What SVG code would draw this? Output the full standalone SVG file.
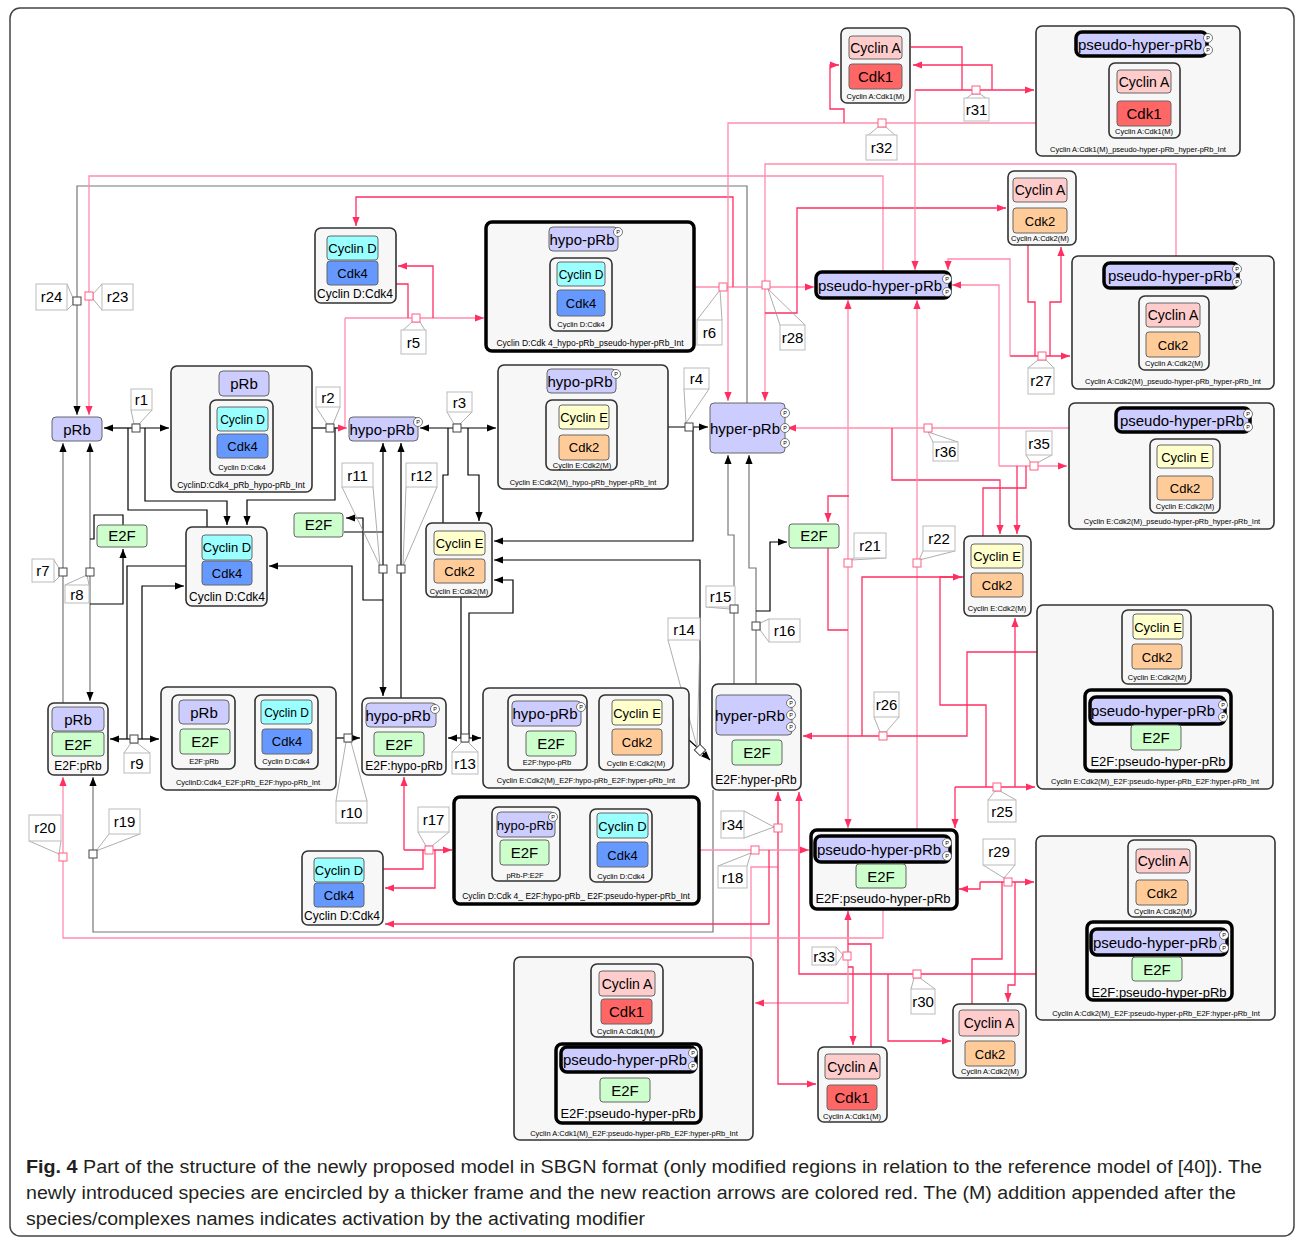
<svg xmlns="http://www.w3.org/2000/svg" width="1295" height="1238" viewBox="0 0 1295 1238">
<defs>
<style>
.c{fill:#f7f7f7;stroke:#333;stroke-width:1.6}
.ct{fill:#f7f7f7;stroke:#000;stroke-width:3.5}
.s{stroke:#666;stroke-width:1}
.prb{fill:#ccccff}
.p3{fill:#ccccff;stroke:#000;stroke-width:3.5}
.cd{fill:#99ffff}.k4{fill:#6699ff}.ce{fill:#ffffcc}.k2{fill:#ffcc99}.ca{fill:#ffcccc}.k1{fill:#ff6666}.e2{fill:#ccffcc}
.tx{font-family:"Liberation Sans",Arial,Helvetica,sans-serif;text-anchor:middle;fill:#000}
.f15{font-size:15px}.f14{font-size:14px}.f13{font-size:13px}.f12{font-size:12px}.f8{font-size:7.5px}.f9{font-size:8.5px}.f5{font-size:5.5px}
.pc{fill:#fff;stroke:#555;stroke-width:0.8}
.lb{fill:none;stroke:#000;stroke-width:1.2}
.lg{fill:none;stroke:#777;stroke-width:1.2}
.lp{fill:none;stroke:#ff2f62;stroke-width:1.3}
.ll{fill:none;stroke:#ff8cae;stroke-width:1.3}
.sq{fill:#fff;stroke:#444;stroke-width:1}
.sqp{fill:#fff;stroke:#ff5f86;stroke-width:1}
.lbx{fill:#fff;stroke:#bbb;stroke-width:1}
.co{fill:none;stroke:#999;stroke-width:0.8}
.cap{font-family:"Liberation Sans",Arial,sans-serif;font-size:18px;fill:#231f20}
</style>
<marker id="ab" viewBox="0 0 10 10" refX="10" refY="5" markerWidth="10" markerHeight="9" markerUnits="userSpaceOnUse" orient="auto"><path d="M0,1L10,5L0,9z" fill="#000"/></marker>
<marker id="ap" viewBox="0 0 10 10" refX="10" refY="5" markerWidth="10" markerHeight="9" markerUnits="userSpaceOnUse" orient="auto"><path d="M0,1L10,5L0,9z" fill="#ff2f62"/></marker>
</defs>
<rect x="10" y="8" width="1284" height="1228" rx="10" fill="#fff" stroke="#444" stroke-width="1.5"/>

<g id="connectors">
<path class="lb" d="M136,428 H104" marker-end="url(#ab)"/>
<path class="lb" d="M136,428 H169" marker-end="url(#ab)"/>
<path class="lb" d="M207,527 V510 H128 V428"/>
<path class="lb" d="M145,428 V501 H227 V525" marker-end="url(#ab)"/>
<path class="lb" d="M312,428 H341"/>
<path class="lb" d="M335,428 V500 H247 V525" marker-end="url(#ab)"/>
<path class="lb" d="M457,428 H420" marker-end="url(#ab)"/>
<path class="lb" d="M457,428 H496" marker-end="url(#ab)"/>
<path class="lb" d="M443,523 V475 H448 V428"/>
<path class="lb" d="M468,428 V475 H479 V521" marker-end="url(#ab)"/>
<path class="lb" d="M668,427 H708" marker-end="url(#ab)"/>
<path class="lb" d="M693,427 V541 H494" marker-end="url(#ab)"/>
<path class="lg" d="M63,703 V443" marker-end="url(#ab)"/>
<path class="lg" d="M90,572 V443" marker-end="url(#ab)"/>
<path class="lg" d="M90,572 V701" marker-end="url(#ab)"/>
<path class="lb" d="M123,525 V515 H94 V539 H90"/>
<path class="lb" d="M90,604 H123 V549" marker-end="url(#ab)"/>
<path class="lb" d="M134,739 H110" marker-end="url(#ab)"/>
<path class="lb" d="M134,739 H159" marker-end="url(#ab)"/>
<path class="lb" d="M127,739 V566 H186"/>
<path class="lb" d="M142,739 V586 H184" marker-end="url(#ab)"/>
<path class="lb" d="M336,738 H360" marker-end="url(#ab)"/>
<path class="lb" d="M352,738 V566 H269" marker-end="url(#ab)"/>
<path class="lb" d="M383,569 V443" marker-end="url(#ab)"/>
<path class="lb" d="M383,569 V696" marker-end="url(#ab)"/>
<path class="lb" d="M344,532 H383"/>
<path class="lb" d="M401,698 V443" marker-end="url(#ab)"/>
<path class="lb" d="M383,600 H363 V518 H346" marker-end="url(#ab)"/>
<path class="lb" d="M465,738 H448" marker-end="url(#ab)"/>
<path class="lb" d="M465,738 H481" marker-end="url(#ab)"/>
<path class="lb" d="M461,738 V597"/>
<path class="lb" d="M469,738 V613 H513 V580 H494" marker-end="url(#ab)"/>
<path class="lb" d="M689,740 L700,750 L710,760" marker-end="url(#ab)"/>
<path class="lb" d="M700,750 V560 H494" marker-end="url(#ab)"/>
<path class="lg" d="M734,684 V535 H728 V455" marker-end="url(#ab)"/>
<path class="lg" d="M756,684 V568 H749 V455" marker-end="url(#ab)"/>
<path class="lb" d="M756,611 H770 V542 H787" marker-end="url(#ab)"/>
<path class="lg" d="M713,790 V932 H93 V777" marker-end="url(#ab)"/>
<path class="lg" d="M747,403 V186 H77 V415" marker-end="url(#ab)"/>
<path class="ll" d="M883,272 V176 H89 V415" marker-end="url(#ap)"/>
<path class="ll" d="M345,318 H484" marker-end="url(#ap)"/>
<path class="ll" d="M345,318 V428 H347" marker-end="url(#ap)"/>
<path class="lp" d="M396,284 H408 V318"/>
<path class="lp" d="M433,318 V266 H398" marker-end="url(#ap)"/>
<path class="ll" d="M694,287 H814" marker-end="url(#ap)"/>
<path class="lp" d="M733,287 V197 H356 V226" marker-end="url(#ap)"/>
<path class="ll" d="M1176,256 V164 H765 V401" marker-end="url(#ap)"/>
<path class="lp" d="M765,313 H797 V208 H1006" marker-end="url(#ap)"/>
<path class="lp" d="M911,47 H962 V90"/>
<path class="lp" d="M915,90 H1034" marker-end="url(#ap)"/>
<path class="lp" d="M992,90 V65 H913" marker-end="url(#ap)"/>
<path class="ll" d="M915,90 V270" marker-end="url(#ap)"/>
<path class="ll" d="M1036,123 H728 V401" marker-end="url(#ap)"/>
<path class="lp" d="M844,123 V109 H830 V65 H839" marker-end="url(#ap)"/>
<path class="lp" d="M1028,245 V302 H1035 V356"/>
<path class="lp" d="M1050,356 V302 H1061 V247" marker-end="url(#ap)"/>
<path class="lp" d="M1010,356 H1070" marker-end="url(#ap)"/>
<path class="ll" d="M1010,356 V259 H948 V270" marker-end="url(#ap)"/>
<path class="ll" d="M999,466 V285 H952" marker-end="url(#ap)"/>
<path class="ll" d="M999,466 H1067" marker-end="url(#ap)"/>
<path class="lp" d="M1026,466 V488 H983 V536"/>
<path class="lp" d="M1017,466 V534" marker-end="url(#ap)"/>
<path class="ll" d="M1069,428 H787" marker-end="url(#ap)"/>
<path class="lp" d="M892,428 V480 H1000 V534" marker-end="url(#ap)"/>
<path class="ll" d="M848,563 V300" marker-end="url(#ap)"/>
<path class="ll" d="M848,563 V828" marker-end="url(#ap)"/>
<path class="lp" d="M849,496 H828 V522" marker-end="url(#ap)"/>
<path class="lp" d="M828,548 V630 H848"/>
<path class="ll" d="M917,830 V300" marker-end="url(#ap)"/>
<path class="lp" d="M1037,652 H967 V736 H803" marker-end="url(#ap)"/>
<path class="lp" d="M862,736 V577 H962" marker-end="url(#ap)"/>
<path class="lp" d="M964,577 H940 V705 H986 V787"/>
<path class="lp" d="M955,787 H1035" marker-end="url(#ap)"/>
<path class="lp" d="M955,787 V828" marker-end="url(#ap)"/>
<path class="lp" d="M1015,787 V618" marker-end="url(#ap)"/>
<path class="lp" d="M980,882 H1034" marker-end="url(#ap)"/>
<path class="lp" d="M980,882 V889 H959" marker-end="url(#ap)"/>
<path class="lp" d="M1002,882 V959 H972 V1004"/>
<path class="lp" d="M1015,882 V985 H1008 V1002" marker-end="url(#ap)"/>
<path class="lp" d="M1036,974 H799 V792" marker-end="url(#ap)"/>
<path class="lp" d="M888,974 V1041 H951" marker-end="url(#ap)"/>
<path class="lp" d="M848,955 V911" marker-end="url(#ap)"/>
<path class="ll" d="M848,955 V1003 H755" marker-end="url(#ap)"/>
<path class="lp" d="M848,967 H853 V1045" marker-end="url(#ap)"/>
<path class="lp" d="M871,1047 V944 H848"/>
<path class="ll" d="M751,957 V867 H778"/>
<path class="lp" d="M778,828 V792" marker-end="url(#ap)"/>
<path class="lp" d="M778,828 V1084 H816" marker-end="url(#ap)"/>
<path class="ll" d="M699,850 H809" marker-end="url(#ap)"/>
<path class="lp" d="M769,850 V924 H385" marker-end="url(#ap)"/>
<path class="lp" d="M404,850 V777" marker-end="url(#ap)"/>
<path class="lp" d="M404,850 H452" marker-end="url(#ap)"/>
<path class="lp" d="M383,869 H423 V850"/>
<path class="lp" d="M435,850 V888 H385" marker-end="url(#ap)"/>
<path class="ll" d="M883,909 V938 H63 V777" marker-end="url(#ap)"/>
</g>

<g id="reactions">
<polyline class="co" points="131,410 134,424 139,424 152,410"/><rect class="lbx" x="131" y="389" width="21" height="21"/><text class="tx f15" x="141.5" y="405">r1</text>
<polyline class="co" points="316,407 327,424 333,424 340,407"/><rect class="lbx" x="316" y="387" width="24" height="20"/><text class="tx f15" x="328" y="403">r2</text>
<polyline class="co" points="447,412 454,424 460,424 472,412"/><rect class="lbx" x="447" y="392" width="25" height="20"/><text class="tx f15" x="459.5" y="408">r3</text>
<polyline class="co" points="684,389 686,423 709,389"/><rect class="lbx" x="684" y="368" width="25" height="21"/><text class="tx f15" x="696.5" y="384">r4</text>
<polyline class="co" points="401,332 412,322 420,322 426,332"/><rect class="lbx" x="401" y="330" width="25" height="24"/><text class="tx f15" x="413.5" y="348">r5</text>
<polyline class="co" points="697,320 720,290 722,320"/><rect class="lbx" x="697" y="320" width="25" height="25"/><text class="tx f15" x="709.5" y="338">r6</text>
<polyline class="co" points="54,560 59,568 59,577 54,582"/><rect class="lbx" x="32" y="559" width="22" height="23"/><text class="tx f15" x="43" y="576">r7</text>
<polyline class="co" points="65,585 87,575 89,585"/><rect class="lbx" x="65" y="585" width="24" height="18"/><text class="tx f15" x="77" y="600">r8</text>
<polyline class="co" points="124,753 131,743 137,743 150,753"/><rect class="lbx" x="124" y="753" width="26" height="20"/><text class="tx f15" x="137" y="769">r9</text>
<polyline class="co" points="336,801 346,742 351,742 367,801"/><rect class="lbx" x="336" y="801" width="31" height="22"/><text class="tx f15" x="351.5" y="818">r10</text>
<polyline class="co" points="342,487 380,566 373,487"/><rect class="lbx" x="342" y="463" width="31" height="24"/><text class="tx f15" x="357.5" y="481">r11</text>
<polyline class="co" points="437,487 403,566 406,487"/><rect class="lbx" x="406" y="463" width="31" height="24"/><text class="tx f15" x="421.5" y="481">r12</text>
<polyline class="co" points="452,752 462,742 468,742 478,752"/><rect class="lbx" x="452" y="752" width="26" height="22"/><text class="tx f15" x="465" y="769">r13</text>
<polyline class="co" points="668,640 697,747 700,640"/><rect class="lbx" x="668" y="618" width="32" height="22"/><text class="tx f15" x="684" y="635">r14</text>
<polyline class="co" points="706,607 730,609 734,607"/><rect class="lbx" x="706" y="586" width="29" height="21"/><text class="tx f15" x="720.5" y="602">r15</text>
<polyline class="co" points="769,619 760,623 760,630 769,642"/><rect class="lbx" x="769" y="619" width="31" height="23"/><text class="tx f15" x="784.5" y="636">r16</text>
<polyline class="co" points="418,832 426,846 432,846 449,832"/><rect class="lbx" x="418" y="807" width="31" height="25"/><text class="tx f15" x="433.5" y="825">r17</text>
<polyline class="co" points="718,866 751,853 747,866"/><rect class="lbx" x="718" y="866" width="29" height="22"/><text class="tx f15" x="732.5" y="883">r18</text>
<polyline class="co" points="109,834 96,851 140,834"/><rect class="lbx" x="109" y="809" width="31" height="25"/><text class="tx f15" x="124.5" y="827">r19</text>
<polyline class="co" points="29,841 59,854 61,841"/><rect class="lbx" x="29" y="815" width="32" height="26"/><text class="tx f15" x="45" y="833">r20</text>
<polyline class="co" points="854,558 851,560 886,558"/><rect class="lbx" x="854" y="533" width="32" height="25"/><text class="tx f15" x="870" y="551">r21</text>
<polyline class="co" points="923,551 919,560 955,551"/><rect class="lbx" x="923" y="526" width="32" height="25"/><text class="tx f15" x="939" y="544">r22</text>
<polyline class="co" points="102,284 93,294 93,299 102,310"/><rect class="lbx" x="102" y="284" width="31" height="26"/><text class="tx f15" x="117.5" y="302">r23</text>
<polyline class="co" points="67,284 73,298 73,304 67,310"/><rect class="lbx" x="36" y="284" width="31" height="26"/><text class="tx f15" x="51.5" y="302">r24</text>
<polyline class="co" points="988,800 995,791 1000,791 1016,800"/><rect class="lbx" x="988" y="800" width="28" height="22"/><text class="tx f15" x="1002" y="817">r25</text>
<polyline class="co" points="874,717 880,732 886,732 899,717"/><rect class="lbx" x="874" y="692" width="25" height="25"/><text class="tx f15" x="886.5" y="710">r26</text>
<polyline class="co" points="1028,368 1038,360 1046,360 1054,368"/><rect class="lbx" x="1028" y="368" width="26" height="26"/><text class="tx f15" x="1041" y="386">r27</text>
<polyline class="co" points="780,325 768,289 805,325"/><rect class="lbx" x="780" y="325" width="25" height="25"/><text class="tx f15" x="792.5" y="343">r28</text>
<polyline class="co" points="983,865 1004,878 1015,865"/><rect class="lbx" x="983" y="839" width="32" height="26"/><text class="tx f15" x="999" y="857">r29</text>
<polyline class="co" points="911,989 914,978 920,978 935,989"/><rect class="lbx" x="911" y="989" width="24" height="25"/><text class="tx f15" x="923" y="1007">r30</text>
<polyline class="co" points="964,100 972,94 980,94 989,100"/><rect class="lbx" x="964" y="98" width="25" height="23"/><text class="tx f15" x="976.5" y="115">r31</text>
<polyline class="co" points="866,137 878,127 886,127 897,137"/><rect class="lbx" x="866" y="135" width="31" height="25"/><text class="tx f15" x="881.5" y="153">r32</text>
<polyline class="co" points="836,947 843,955 836,965"/><rect class="lbx" x="812" y="947" width="24" height="18"/><text class="tx f15" x="824" y="962">r33</text>
<polyline class="co" points="744,811 774,827 744,838"/><rect class="lbx" x="721" y="811" width="23" height="27"/><text class="tx f15" x="732.5" y="830">r34</text>
<polyline class="co" points="1026,455 1031,463 1037,463 1052,455"/><rect class="lbx" x="1026" y="431" width="26" height="24"/><text class="tx f15" x="1039" y="449">r35</text>
<polyline class="co" points="933,442 928,432 958,442"/><rect class="lbx" x="933" y="442" width="25" height="19"/><text class="tx f15" x="945.5" y="457">r36</text>
<rect class="sq" x="132" y="424" width="8" height="8"/>
<rect class="sq" x="326" y="424" width="8" height="8"/>
<rect class="sq" x="453" y="424" width="8" height="8"/>
<rect class="sq" x="685" y="423" width="8" height="8"/>
<rect class="sq" x="59" y="568" width="8" height="8"/>
<rect class="sq" x="86" y="568" width="8" height="8"/>
<rect class="sq" x="130" y="735" width="8" height="8"/>
<rect class="sq" x="344" y="734" width="8" height="8"/>
<rect class="sq" x="379" y="565" width="8" height="8"/>
<rect class="sq" x="397" y="565" width="8" height="8"/>
<rect class="sq" x="461" y="734" width="8" height="8"/>
<rect class="sq" x="730" y="605" width="8" height="8"/>
<rect class="sq" x="752" y="622" width="8" height="8"/>
<rect class="sq" x="89" y="850" width="8" height="8"/>
<rect class="sq" x="73" y="297" width="8" height="8"/>
<rect class="sq" x="696" y="746" width="8" height="8" transform="rotate(45 700 750)"/>
<rect class="sqp" x="412" y="314" width="8" height="8"/>
<rect class="sqp" x="719" y="283" width="8" height="8"/>
<rect class="sqp" x="425" y="846" width="8" height="8"/>
<rect class="sqp" x="751" y="846" width="8" height="8"/>
<rect class="sqp" x="59" y="853" width="8" height="8"/>
<rect class="sqp" x="844" y="559" width="8" height="8"/>
<rect class="sqp" x="913" y="559" width="8" height="8"/>
<rect class="sqp" x="85" y="292" width="8" height="8"/>
<rect class="sqp" x="993" y="783" width="8" height="8"/>
<rect class="sqp" x="879" y="732" width="8" height="8"/>
<rect class="sqp" x="1038" y="352" width="8" height="8"/>
<rect class="sqp" x="762" y="281" width="8" height="8"/>
<rect class="sqp" x="1004" y="878" width="8" height="8"/>
<rect class="sqp" x="913" y="970" width="8" height="8"/>
<rect class="sqp" x="972" y="86" width="8" height="8"/>
<rect class="sqp" x="878" y="119" width="8" height="8"/>
<rect class="sqp" x="843" y="952" width="8" height="8"/>
<rect class="sqp" x="774" y="824" width="8" height="8"/>
<rect class="sqp" x="1030" y="462" width="8" height="8"/>
<rect class="sqp" x="924" y="424" width="8" height="8"/>
</g>

<g id="n_CycA_Cdk1_top">
<rect class="c" x="841" y="28" width="69" height="75" rx="6"/>
<rect class="s ca" x="849" y="36" width="53" height="23" rx="3"/><text class="tx f14" x="875.5" y="52.5">Cyclin A</text>
<rect class="s k1" x="849" y="64" width="53" height="25" rx="3"/><text class="tx f15" x="875.5" y="82">Cdk1</text>
<text class="tx f8" x="875.5" y="99">Cyclin A:Cdk1(M)</text>
</g>
<g id="n_CycA_Cdk1_pseudo_Int">
<rect class="c" x="1036" y="26" width="204" height="130" rx="6"/>
<rect class="p3" x="1076" y="32" width="131" height="24" rx="6"/><text class="tx f15" x="1140" y="50">pseudo-hyper-pRb</text>
<circle class="pc" cx="1208" cy="38" r="4.5"/><text class="tx f5" x="1208" y="40">P</text>
<circle class="pc" cx="1208" cy="50" r="4.5"/><text class="tx f5" x="1208" y="52">P</text>
<rect class="c" x="1109" y="63" width="71" height="75" rx="6"/>
<rect class="s ca" x="1117" y="70" width="54" height="23" rx="3"/><text class="tx f14" x="1144" y="87">Cyclin A</text>
<rect class="s k1" x="1117" y="101" width="54" height="25" rx="3"/><text class="tx f15" x="1144" y="119">Cdk1</text>
<text class="tx f8" x="1144" y="134">Cyclin A:Cdk1(M)</text>
<text class="tx f8" x="1138" y="152">Cyclin A:Cdk1(M)_pseudo-hyper-pRb_hyper-pRb_Int</text>
</g>
<g id="n_CycA_Cdk2_top">
<rect class="c" x="1008" y="171" width="68" height="74" rx="6"/>
<rect class="s ca" x="1013" y="178" width="54" height="24" rx="3"/><text class="tx f14" x="1040" y="195">Cyclin A</text>
<rect class="s k2" x="1013" y="208" width="54" height="25" rx="3"/><text class="tx f13" x="1040" y="226">Cdk2</text>
<text class="tx f8" x="1040" y="241">Cyclin A:Cdk2(M)</text>
</g>
<g id="n_CycA_Cdk2_pseudo_Int">
<rect class="c" x="1072" y="256" width="202" height="133" rx="6"/>
<rect class="p3" x="1104" y="263" width="134" height="25" rx="6"/><text class="tx f15" x="1170" y="281">pseudo-hyper-pRb</text>
<circle class="pc" cx="1237" cy="269" r="4.5"/><text class="tx f5" x="1237" y="271">P</text>
<circle class="pc" cx="1237" cy="282" r="4.5"/><text class="tx f5" x="1237" y="284">P</text>
<rect class="c" x="1139" y="296" width="70" height="74" rx="6"/>
<rect class="s ca" x="1146" y="303" width="54" height="24" rx="3"/><text class="tx f14" x="1173" y="320">Cyclin A</text>
<rect class="s k2" x="1146" y="332" width="54" height="25" rx="3"/><text class="tx f13" x="1173" y="350">Cdk2</text>
<text class="tx f8" x="1174" y="366">Cyclin A:Cdk2(M)</text>
<text class="tx f8" x="1173" y="384">Cyclin A:Cdk2(M)_pseudo-hyper-pRb_hyper-pRb_Int</text>
</g>
<g id="n_pseudo_hyper_pRb">
<rect class="p3" x="816" y="272" width="134" height="26" rx="6"/><text class="tx f15" x="880" y="291">pseudo-hyper-pRb</text>
<circle class="pc" cx="947" cy="279" r="4.5"/><text class="tx f5" x="947" y="281">P</text>
<circle class="pc" cx="947" cy="292" r="4.5"/><text class="tx f5" x="947" y="294">P</text>
</g>
<g id="n_CycD_Cdk4_upper">
<rect class="c" x="315" y="228" width="81" height="75" rx="6"/>
<rect class="s cd" x="327" y="236" width="51" height="24" rx="3"/><text class="tx f13" x="352.5" y="253">Cyclin D</text>
<rect class="s k4" x="327" y="261" width="51" height="24" rx="3"/><text class="tx f13" x="352.5" y="278">Cdk4</text>
<text class="tx f12" x="355" y="298">Cyclin D:Cdk4</text>
</g>
<g id="n_CycD_Cdk4_hypo_pseudo_Int">
<rect class="ct" x="486" y="222" width="208" height="129" rx="6"/>
<rect class="s prb" x="549" y="227" width="69" height="24" rx="4"/><text class="tx f15" x="582" y="245">hypo-pRb</text>
<circle class="pc" cx="618" cy="232" r="4.5"/><text class="tx f5" x="618" y="234">P</text>
<rect class="c" x="550" y="258" width="62" height="73" rx="6"/>
<rect class="s cd" x="557" y="262" width="48" height="24" rx="3"/><text class="tx f12" x="581" y="279">Cyclin D</text>
<rect class="s k4" x="557" y="290" width="48" height="26" rx="3"/><text class="tx f13" x="581" y="308">Cdk4</text>
<text class="tx f8" x="581" y="327">Cyclin D:Cdk4</text>
<text class="tx f9" x="590" y="346">Cyclin D:Cdk 4_hypo-pRb_pseudo-hyper-pRb_Int</text>
</g>
<g id="n_pRb">
<rect class="s prb" x="52" y="417" width="50" height="24" rx="4"/><text class="tx f15" x="77" y="435">pRb</text>
</g>
<g id="n_CycD_Cdk4_pRb_hypo_Int">
<rect class="c" x="171" y="366" width="141" height="126" rx="6"/>
<rect class="s prb" x="219" y="371" width="50" height="25" rx="4"/><text class="tx f15" x="244" y="389">pRb</text>
<rect class="c" x="210" y="400" width="63" height="75" rx="6"/>
<rect class="s cd" x="217" y="407" width="51" height="24" rx="3"/><text class="tx f12" x="242.5" y="424">Cyclin D</text>
<rect class="s k4" x="217" y="434" width="51" height="24" rx="3"/><text class="tx f13" x="242.5" y="451">Cdk4</text>
<text class="tx f8" x="242" y="470">Cyclin D:Cdk4</text>
<text class="tx f9" x="241" y="488">CyclinD:Cdk4_pRb_hypo-pRb_Int</text>
</g>
<g id="n_hypo_pRb">
<rect class="s prb" x="349" y="417" width="69" height="24" rx="4"/><text class="tx f15" x="382" y="435">hypo-pRb</text>
<circle class="pc" cx="418" cy="422" r="4.5"/><text class="tx f5" x="418" y="424">P</text>
</g>
<g id="n_CycE_Cdk2_hypo_hyper_Int">
<rect class="c" x="498" y="365" width="170" height="124" rx="6"/>
<rect class="s prb" x="547" y="369" width="69" height="24" rx="4"/><text class="tx f15" x="580" y="387">hypo-pRb</text>
<circle class="pc" cx="616" cy="374" r="4.5"/><text class="tx f5" x="616" y="376">P</text>
<rect class="c" x="546" y="400" width="71" height="70" rx="6"/>
<rect class="s ce" x="559" y="405" width="50" height="24" rx="3"/><text class="tx f13" x="584" y="422">Cyclin E</text>
<rect class="s k2" x="559" y="435" width="50" height="25" rx="3"/><text class="tx f13" x="584" y="452">Cdk2</text>
<text class="tx f8" x="582" y="468">Cyclin E:Cdk2(M)</text>
<text class="tx f8" x="583" y="485">Cyclin E:Cdk2(M)_hypo-pRb_hyper-pRb_Int</text>
</g>
<g id="n_hyper_pRb">
<rect class="s prb" x="710" y="403" width="75" height="50" rx="4"/><text class="tx f15" x="745" y="434">hyper-pRb</text>
<circle class="pc" cx="785" cy="413" r="4.5"/><text class="tx f5" x="785" y="415">P</text>
<circle class="pc" cx="785" cy="428" r="4.5"/><text class="tx f5" x="785" y="430">P</text>
<circle class="pc" cx="785" cy="443" r="4.5"/><text class="tx f5" x="785" y="445">P</text>
</g>
<g id="n_E2F_left">
<rect class="s e2" x="97" y="525" width="50" height="22" rx="3"/><text class="tx f15" x="122" y="541">E2F</text>
</g>
<g id="n_CycD_Cdk4_mid">
<rect class="c" x="186" y="527" width="81" height="79" rx="6"/>
<rect class="s cd" x="202" y="535" width="50" height="25" rx="3"/><text class="tx f13" x="227" y="552">Cyclin D</text>
<rect class="s k4" x="202" y="561" width="50" height="24" rx="3"/><text class="tx f13" x="227" y="578">Cdk4</text>
<text class="tx f12" x="227" y="601">Cyclin D:Cdk4</text>
</g>
<g id="n_E2F_mid">
<rect class="s e2" x="294" y="513" width="49" height="24" rx="3"/><text class="tx f15" x="318.5" y="530">E2F</text>
</g>
<g id="n_CycE_Cdk2_mid">
<rect class="c" x="426" y="523" width="66" height="74" rx="6"/>
<rect class="s ce" x="434" y="531" width="51" height="24" rx="3"/><text class="tx f13" x="459.5" y="548">Cyclin E</text>
<rect class="s k2" x="434" y="559" width="51" height="24" rx="3"/><text class="tx f13" x="459.5" y="576">Cdk2</text>
<text class="tx f8" x="459" y="594">Cyclin E:Cdk2(M)</text>
</g>
<g id="n_E2F_right">
<rect class="s e2" x="789" y="524" width="50" height="24" rx="3"/><text class="tx f15" x="814" y="541">E2F</text>
</g>
<g id="n_CycE_Cdk2_right">
<rect class="c" x="964" y="536" width="67" height="80" rx="6"/>
<rect class="s ce" x="971" y="544" width="52" height="24" rx="3"/><text class="tx f13" x="997" y="561">Cyclin E</text>
<rect class="s k2" x="971" y="573" width="52" height="24" rx="3"/><text class="tx f13" x="997" y="590">Cdk2</text>
<text class="tx f8" x="997" y="611">Cyclin E:Cdk2(M)</text>
</g>
<g id="n_CycE_Cdk2_pseudo_Int">
<rect class="c" x="1069" y="403" width="205" height="126" rx="6"/>
<rect class="p3" x="1116" y="408" width="134" height="24" rx="6"/><text class="tx f15" x="1182" y="426">pseudo-hyper-pRb</text>
<circle class="pc" cx="1248" cy="414" r="4.5"/><text class="tx f5" x="1248" y="416">P</text>
<circle class="pc" cx="1248" cy="427" r="4.5"/><text class="tx f5" x="1248" y="429">P</text>
<rect class="c" x="1150" y="439" width="70" height="74" rx="6"/>
<rect class="s ce" x="1157" y="445" width="56" height="23" rx="3"/><text class="tx f13" x="1185" y="462">Cyclin E</text>
<rect class="s k2" x="1157" y="476" width="56" height="24" rx="3"/><text class="tx f13" x="1185" y="493">Cdk2</text>
<text class="tx f8" x="1185" y="509">Cyclin E:Cdk2(M)</text>
<text class="tx f8" x="1172" y="524">Cyclin E:Cdk2(M)_pseudo-hyper-pRb_hyper-pRb_Int</text>
</g>
<g id="n_E2F_pRb">
<rect class="c" x="48" y="703" width="60" height="72" rx="6"/>
<rect class="s prb" x="52" y="707" width="52" height="24" rx="4"/><text class="tx f15" x="78" y="725">pRb</text>
<rect class="s e2" x="52" y="732" width="52" height="24" rx="3"/><text class="tx f15" x="78" y="750">E2F</text>
<text class="tx f12" x="78" y="770">E2F:pRb</text>
</g>
<g id="n_CycD_Cdk4_E2F_pRb_Int">
<rect class="c" x="161" y="687" width="175" height="103" rx="6"/>
<rect class="c" x="172" y="695" width="63" height="74" rx="6"/>
<rect class="s prb" x="179" y="700" width="50" height="24" rx="4"/><text class="tx f15" x="204" y="718">pRb</text>
<rect class="s e2" x="180" y="729" width="50" height="25" rx="3"/><text class="tx f15" x="205" y="747">E2F</text>
<text class="tx f8" x="204" y="764">E2F:pRb</text>
<rect class="c" x="255" y="695" width="63" height="74" rx="6"/>
<rect class="s cd" x="261" y="700" width="51" height="24" rx="3"/><text class="tx f12" x="286.5" y="717">Cyclin D</text>
<rect class="s k4" x="262" y="729" width="50" height="25" rx="3"/><text class="tx f13" x="287" y="746">Cdk4</text>
<text class="tx f8" x="286" y="764">Cyclin D:Cdk4</text>
<text class="tx f8" x="248" y="785">CyclinD:Cdk4_E2F:pRb_E2F:hypo-pRb_Int</text>
</g>
<g id="n_E2F_hypo_pRb">
<rect class="c" x="362" y="698" width="84" height="77" rx="6"/>
<rect class="s prb" x="366" y="703" width="70" height="24" rx="4"/><text class="tx f15" x="398" y="721">hypo-pRb</text>
<circle class="pc" cx="435" cy="709" r="4.5"/><text class="tx f5" x="435" y="711">P</text>
<rect class="s e2" x="374" y="732" width="50" height="24" rx="3"/><text class="tx f15" x="399" y="750">E2F</text>
<text class="tx f12" x="404" y="770">E2F:hypo-pRb</text>
</g>
<g id="n_CycE_Cdk2_E2F_hypo_Int">
<rect class="c" x="483" y="688" width="206" height="100" rx="6"/>
<rect class="c" x="508" y="695" width="79" height="75" rx="6"/>
<rect class="s prb" x="512" y="701" width="69" height="25" rx="4"/><text class="tx f15" x="545" y="719">hypo-pRb</text>
<circle class="pc" cx="581" cy="707" r="4.5"/><text class="tx f5" x="581" y="709">P</text>
<rect class="s e2" x="526" y="731" width="50" height="25" rx="3"/><text class="tx f15" x="551" y="749">E2F</text>
<text class="tx f8" x="547" y="765">E2F:hypo-pRb</text>
<rect class="c" x="599" y="695" width="74" height="75" rx="6"/>
<rect class="s ce" x="612" y="700" width="50" height="25" rx="3"/><text class="tx f13" x="637" y="718">Cyclin E</text>
<rect class="s k2" x="612" y="729" width="50" height="26" rx="3"/><text class="tx f13" x="637" y="747">Cdk2</text>
<text class="tx f8" x="636" y="766">Cyclin E:Cdk2(M)</text>
<text class="tx f8" x="586" y="783">Cyclin E:Cdk2(M)_E2F:hypo-pRb_E2F:hyper-pRb_Int</text>
</g>
<g id="n_E2F_hyper_pRb">
<rect class="c" x="712" y="684" width="89" height="106" rx="6"/>
<rect class="s prb" x="716" y="695" width="76" height="40" rx="4"/><text class="tx f15" x="750" y="721">hyper-pRb</text>
<circle class="pc" cx="791" cy="703" r="4.5"/><text class="tx f5" x="791" y="705">P</text>
<circle class="pc" cx="791" cy="715" r="4.5"/><text class="tx f5" x="791" y="717">P</text>
<circle class="pc" cx="791" cy="727" r="4.5"/><text class="tx f5" x="791" y="729">P</text>
<rect class="s e2" x="732" y="740" width="50" height="25" rx="3"/><text class="tx f15" x="757" y="758">E2F</text>
<text class="tx f12" x="756" y="784">E2F:hyper-pRb</text>
</g>
<g id="n_CycE_Cdk2_E2F_pseudo_Int">
<rect class="c" x="1037" y="605" width="236" height="184" rx="6"/>
<rect class="c" x="1122" y="610" width="69" height="74" rx="6"/>
<rect class="s ce" x="1133" y="614" width="50" height="25" rx="3"/><text class="tx f13" x="1158" y="632">Cyclin E</text>
<rect class="s k2" x="1132" y="644" width="50" height="25" rx="3"/><text class="tx f13" x="1157" y="662">Cdk2</text>
<text class="tx f8" x="1157" y="680">Cyclin E:Cdk2(M)</text>
<rect class="ct" x="1085" y="690" width="146" height="81" rx="6"/>
<rect class="p3" x="1090" y="697" width="135" height="27" rx="6"/><text class="tx f15" x="1153" y="716">pseudo-hyper-pRb</text>
<circle class="pc" cx="1223" cy="705" r="4.5"/><text class="tx f5" x="1223" y="707">P</text>
<circle class="pc" cx="1223" cy="717" r="4.5"/><text class="tx f5" x="1223" y="719">P</text>
<rect class="s e2" x="1131" y="725" width="50" height="25" rx="3"/><text class="tx f15" x="1156" y="743">E2F</text>
<text class="tx f13" x="1158" y="766">E2F:pseudo-hyper-pRb</text>
<text class="tx f8" x="1155" y="784">Cyclin E:Cdk2(M)_E2F:pseudo-hyper-pRb_E2F:hyper-pRb_Int</text>
</g>
<g id="n_CycD_Cdk4_low">
<rect class="c" x="302" y="851" width="81" height="74" rx="6"/>
<rect class="s cd" x="314" y="858" width="50" height="24" rx="3"/><text class="tx f13" x="339" y="875">Cyclin D</text>
<rect class="s k4" x="314" y="883" width="50" height="24" rx="3"/><text class="tx f13" x="339" y="900">Cdk4</text>
<text class="tx f12" x="342" y="920">Cyclin D:Cdk4</text>
</g>
<g id="n_CycD_Cdk4_E2F_hypo_pseudo_Int">
<rect class="ct" x="454" y="797" width="245" height="107" rx="6"/>
<rect class="c" x="492" y="807" width="68" height="74" rx="6"/>
<rect class="s prb" x="497" y="812" width="58" height="25" rx="4"/><text class="tx f13" x="525" y="830">hypo-pRb</text>
<circle class="pc" cx="553" cy="817" r="4.5"/><text class="tx f5" x="553" y="819">P</text>
<rect class="s e2" x="500" y="840" width="49" height="25" rx="3"/><text class="tx f15" x="524.5" y="858">E2F</text>
<text class="tx f8" x="525" y="878">pRb-P:E2F</text>
<rect class="c" x="590" y="809" width="62" height="73" rx="6"/>
<rect class="s cd" x="597" y="813" width="51" height="25" rx="3"/><text class="tx f13" x="622.5" y="831">Cyclin D</text>
<rect class="s k4" x="597" y="842" width="51" height="25" rx="3"/><text class="tx f13" x="622.5" y="860">Cdk4</text>
<text class="tx f8" x="621" y="879">Cyclin D:Cdk4</text>
<text class="tx f9" x="576" y="899">Cyclin D:Cdk 4_ E2F:hypo-pRb_ E2F:pseudo-hyper-pRb_Int</text>
</g>
<g id="n_E2F_pseudo_hyper_pRb">
<rect class="ct" x="811" y="830" width="146" height="79" rx="6"/>
<rect class="p3" x="815" y="836" width="135" height="26" rx="6"/><text class="tx f15" x="879" y="855">pseudo-hyper-pRb</text>
<circle class="pc" cx="947" cy="843" r="4.5"/><text class="tx f5" x="947" y="845">P</text>
<circle class="pc" cx="947" cy="856" r="4.5"/><text class="tx f5" x="947" y="858">P</text>
<rect class="s e2" x="856" y="864" width="50" height="24" rx="3"/><text class="tx f15" x="881" y="882">E2F</text>
<text class="tx f13" x="883" y="903">E2F:pseudo-hyper-pRb</text>
</g>
<g id="n_CycA_Cdk2_E2F_pseudo_Int">
<rect class="c" x="1036" y="836" width="239" height="184" rx="6"/>
<rect class="c" x="1128" y="840" width="68" height="77" rx="6"/>
<rect class="s ca" x="1136" y="849" width="54" height="24" rx="3"/><text class="tx f14" x="1163" y="866">Cyclin A</text>
<rect class="s k2" x="1136" y="880" width="52" height="25" rx="3"/><text class="tx f13" x="1162" y="898">Cdk2</text>
<text class="tx f8" x="1163" y="914">Cyclin A:Cdk2(M)</text>
<rect class="ct" x="1087" y="922" width="145" height="78" rx="6"/>
<rect class="p3" x="1091" y="929" width="136" height="26" rx="6"/><text class="tx f15" x="1155" y="948">pseudo-hyper-pRb</text>
<circle class="pc" cx="1224" cy="935" r="4.5"/><text class="tx f5" x="1224" y="937">P</text>
<circle class="pc" cx="1224" cy="948" r="4.5"/><text class="tx f5" x="1224" y="950">P</text>
<rect class="s e2" x="1132" y="957" width="50" height="24" rx="3"/><text class="tx f15" x="1157" y="975">E2F</text>
<text class="tx f13" x="1159" y="997">E2F:pseudo-hyper-pRb</text>
<text class="tx f8" x="1156" y="1016">Cyclin A:Cdk2(M)_E2F:pseudo-hyper-pRb_E2F:hyper-pRb_Int</text>
</g>
<g id="n_CycA_Cdk1_E2F_pseudo_Int">
<rect class="c" x="514" y="957" width="239" height="183" rx="6"/>
<rect class="c" x="591" y="964" width="72" height="73" rx="6"/>
<rect class="s ca" x="599" y="971" width="56" height="25" rx="3"/><text class="tx f14" x="627" y="989">Cyclin A</text>
<rect class="s k1" x="601" y="999" width="51" height="25" rx="3"/><text class="tx f15" x="626.5" y="1017">Cdk1</text>
<text class="tx f8" x="626" y="1034">Cyclin A:Cdk1(M)</text>
<rect class="ct" x="556" y="1044" width="145" height="79" rx="6"/>
<rect class="p3" x="561" y="1047" width="135" height="25" rx="6"/><text class="tx f15" x="625" y="1065">pseudo-hyper-pRb</text>
<circle class="pc" cx="693" cy="1053" r="4.5"/><text class="tx f5" x="693" y="1055">P</text>
<circle class="pc" cx="693" cy="1066" r="4.5"/><text class="tx f5" x="693" y="1068">P</text>
<rect class="s e2" x="600" y="1078" width="50" height="24" rx="3"/><text class="tx f15" x="625" y="1096">E2F</text>
<text class="tx f13" x="628" y="1118">E2F:pseudo-hyper-pRb</text>
<text class="tx f8" x="634" y="1136">Cyclin A:Cdk1(M)_E2F:pseudo-hyper-pRb_E2F:hyper-pRb_Int</text>
</g>
<g id="n_CycA_Cdk1_bottom">
<rect class="c" x="818" y="1047" width="69" height="75" rx="6"/>
<rect class="s ca" x="825" y="1054" width="55" height="25" rx="3"/><text class="tx f14" x="852.5" y="1072">Cyclin A</text>
<rect class="s k1" x="827" y="1085" width="50" height="25" rx="3"/><text class="tx f15" x="852" y="1103">Cdk1</text>
<text class="tx f8" x="852" y="1119">Cyclin A:Cdk1(M)</text>
</g>
<g id="n_CycA_Cdk2_bottom">
<rect class="c" x="953" y="1004" width="73" height="74" rx="6"/>
<rect class="s ca" x="959" y="1010" width="60" height="26" rx="3"/><text class="tx f14" x="989" y="1028">Cyclin A</text>
<rect class="s k2" x="965" y="1041" width="50" height="25" rx="3"/><text class="tx f13" x="990" y="1059">Cdk2</text>
<text class="tx f8" x="990" y="1074">Cyclin A:Cdk2(M)</text>
</g>

<g id="caption">
<text class="cap" x="26" y="1173" textLength="1236" lengthAdjust="spacingAndGlyphs"><tspan font-weight="bold">Fig. 4</tspan> Part of the structure of the newly proposed model in SBGN format (only modified regions in relation to the reference model of [40]). The</text>
<text class="cap" x="26" y="1199" textLength="1210" lengthAdjust="spacingAndGlyphs">newly introduced species are encircled by a thicker frame and the new reaction arrows are colored red. The (M) addition appended after the</text>
<text class="cap" x="26" y="1225" textLength="619" lengthAdjust="spacingAndGlyphs">species/complexes names indicates activation by the activating modifier</text>
</g>
</svg>
